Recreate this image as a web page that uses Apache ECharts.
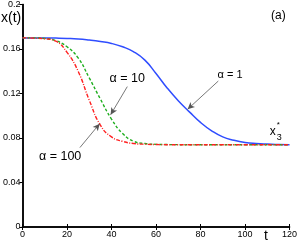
<!DOCTYPE html>
<html><head><meta charset="utf-8">
<script src="https://cdn.jsdelivr.net/npm/echarts@6/dist/echarts.min.js"></script>
<style>html,body{margin:0;padding:0;background:#fff}#c{width:300px;height:247px}</style>
</head><body><div id="c"></div>
<script>
const tValues = [0,5,10,15,20,25,30,35,40,45,50,55,60,65,70,75,80,85,90,95,100,105,110,115,120];
const alpha1 = [0.170,0.170,0.170,0.1698,0.1695,0.169,0.168,0.1667,0.165,0.162,0.1575,0.150,0.138,0.125,0.1135,0.1035,0.094,0.0865,0.081,0.078,0.076,0.075,0.0745,0.0742,0.074];
const alpha10 = [0.170,0.170,0.1695,0.1675,0.162,0.152,0.134,0.115,0.097,0.084,0.077,0.075,0.0743,0.0741,0.074,0.074,0.074,0.074,0.074,0.074,0.074,0.074,0.074,0.074,0.074];
const alpha100 = [0.170,0.1698,0.1692,0.167,0.157,0.140,0.114,0.0915,0.081,0.077,0.075,0.0744,0.0741,0.074,0.074,0.074,0.074,0.074,0.074,0.074,0.074,0.074,0.074,0.074,0.074];
const xTicks = [0,20,40,60,80,100,120];
const yTicks = [0,0.04,0.08,0.12,0.16,0.2];
// annotations in data coordinates
const annAlpha1 = {text:'α = 1', at:[93.3,0.1366], from:[88,0.1312], to:[74.2,0.1058]};
const annAlpha10 = {text:'α = 10', at:[47.1,0.1330], from:[47.1,0.1262], to:[39.6,0.1009]};
const annAlpha100 = {text:'α = 100', at:[16.9,0.0634], from:[25.8,0.0714], to:[34.7,0.0929]};

const font = 'Liberation Sans, Arial, sans-serif';
const pair = (arr) => tValues.map((t,i)=>[t,arr[i]]);
const arrowLine = (a) => [[{coord:a.from, symbol:'none'},{coord:a.to, symbol:'arrow', symbolSize:[5,7]}]];
const textPt = (a,size) => ({coord:a.at, value:a.text, label:{fontSize:size}});

const chart = echarts.init(document.getElementById('c'));
chart.setOption({
  animation:false,
  grid:{left:22,right:8,top:3,bottom:20},
  xAxis:[{
    type:'value',min:0,max:120,interval:20,
    axisLine:{lineStyle:{color:'#000',width:1.5}},
    axisTick:{inside:true,length:3,lineStyle:{color:'#000'}},
    axisLabel:{color:'#000',fontSize:9,fontFamily:font,margin:3,formatter:v=>xTicks.includes(v)?String(v):''},
    splitLine:{show:false}
  },{
    type:'value',min:0,max:120,interval:20,position:'top',
    axisLine:{lineStyle:{color:'#000',width:1.5}},
    axisTick:{inside:true,length:3,lineStyle:{color:'#000'}},
    axisLabel:{show:false},splitLine:{show:false}
  }],
  yAxis:[{
    type:'value',min:0,max:0.2,interval:0.04,
    axisLine:{lineStyle:{color:'#000',width:1.5}},
    axisTick:{inside:false,length:3,lineStyle:{color:'#000'}},
    axisLabel:{color:'#000',fontSize:9,fontFamily:font,margin:2,formatter:v=>{const m=yTicks.find(y=>Math.abs(y-v)<1e-9);return m===undefined?'':String(m);}},
    splitLine:{show:false}
  },{
    type:'value',min:0,max:0.2,interval:0.04,position:'right',
    axisLine:{lineStyle:{color:'#000',width:1.5}},
    axisTick:{inside:true,length:3,lineStyle:{color:'#000'}},
    axisLabel:{show:false},splitLine:{show:false}
  }],
  series:[
    {type:'line',name:'α=1',data:pair(alpha1),smooth:true,symbol:'none',lineStyle:{color:'#2f4dff',width:1.5},
     markLine:{silent:true,animation:false,lineStyle:{color:'#555',width:0.8,type:'solid'},label:{show:false},data:arrowLine(annAlpha1)},
     markPoint:{symbol:'circle',symbolSize:0,label:{show:true,color:'#000',fontFamily:font,formatter:p=>p.value},
       data:[textPt(annAlpha1,11),textPt(annAlpha10,12.5),textPt(annAlpha100,12.5)]}},
    {type:'line',name:'α=10',data:pair(alpha10),smooth:true,symbol:'none',lineStyle:{color:'#1fae1f',width:1.4,type:[3,2]},
     markLine:{silent:true,animation:false,lineStyle:{color:'#555',width:0.8,type:'solid'},label:{show:false},data:arrowLine(annAlpha10)}},
    {type:'line',name:'α=100',data:pair(alpha100),smooth:true,symbol:'none',lineStyle:{color:'#ff2020',width:1.4,type:[4,1.5,1,1.5]},
     markLine:{silent:true,animation:false,lineStyle:{color:'#555',width:0.8,type:'solid'},label:{show:false},data:arrowLine(annAlpha100)}}
  ]
});
// x3* label at data position
const p = chart.convertToPixel({xAxisIndex:0,yAxisIndex:0},[112.9,0.0857]);
chart.setOption({graphic:[
  {type:'text',left:1,top:11,style:{text:'x(t)',fontSize:14,fontFamily:font,fill:'#000'}},
  {type:'text',left:264,top:229,style:{text:'t',fontSize:14,fontFamily:font,fill:'#000'}},
  {type:'text',left:271,top:10,style:{text:'(a)',fontSize:12,fontFamily:font,fill:'#000'}},
  {type:'text',x:p[0]-4,y:p[1]-6,style:{text:'x',fontSize:12,fontFamily:font,fill:'#000'}},
  {type:'text',x:p[0]+3,y:p[1]+1,style:{text:'3',fontSize:9,fontFamily:font,fill:'#000'}},
  {type:'text',x:p[0]+3,y:p[1]-11,style:{text:'*',fontSize:8,fontFamily:font,fill:'#000'}}
]});
</script></body></html>
